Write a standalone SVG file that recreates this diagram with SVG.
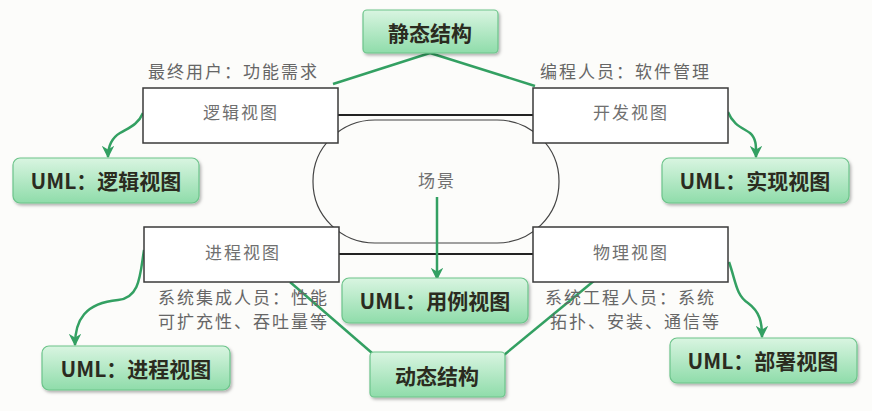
<svg xmlns="http://www.w3.org/2000/svg" width="872" height="411" viewBox="0 0 872 411">
<defs>
<linearGradient id="gg" x1="0" y1="0" x2="0" y2="1">
<stop offset="0" stop-color="#d9f5e1"/>
<stop offset="1" stop-color="#8fdcaa"/>
</linearGradient>
<filter id="sh" x="-10%" y="-20%" width="130%" height="150%">
<feDropShadow dx="1.5" dy="2" stdDeviation="1.5" flood-color="#000" flood-opacity="0.3"/>
</filter>
<marker id="ah" viewBox="0 0 10 10" refX="9" refY="5" markerWidth="5" markerHeight="5" orient="auto" markerUnits="strokeWidth">
<path d="M0,0 L10,5 L0,10 L3,5 z" fill="#33a062"/>
</marker>
<style>
.box{fill:#fff;stroke:#3a3a3a;stroke-width:1.5}
.bt{font-family:"Liberation Serif","Noto Sans CJK SC",serif;font-size:17px;letter-spacing:2px;fill:#707070;text-anchor:middle;dominant-baseline:central}
.note{font-family:"Liberation Serif","Noto Sans CJK SC",serif;font-size:17px;letter-spacing:2px;fill:#666;dominant-baseline:central}
.gb{fill:url(#gg);stroke:#6cc48a;stroke-width:1.2;filter:url(#sh)}
.gt{font-family:"Noto Sans CJK SC",sans-serif;font-weight:bold;font-size:21px;fill:#2b2b1f;text-anchor:middle;dominant-baseline:central}
.gl{fill:none;stroke:#33a062;stroke-width:2.5}
.ga{fill:none;stroke:#33a062;stroke-width:2.5;marker-end:url(#ah)}
</style>
</defs>
<rect x="0" y="0" width="872" height="411" fill="#fcfcfa"/>

<g id="scene">
<rect x="313" y="120" width="246" height="123" rx="62" ry="61" fill="#fcfcfa" stroke="#444" stroke-width="1.2"/>
<text class="bt" x="437" y="181">场景</text>
</g>

<g id="connectors">
<line x1="338" y1="115" x2="533" y2="115" stroke="#222" stroke-width="2"/>
<line x1="339" y1="254" x2="533" y2="254" stroke="#222" stroke-width="2"/>
<line class="gl" x1="430" y1="53" x2="333" y2="84"/>
<line class="gl" x1="430" y1="53" x2="535" y2="86"/>
<line class="gl" x1="290" y1="282" x2="372" y2="353"/>
<line class="gl" x1="595" y1="280" x2="504" y2="355"/>
<path class="ga" d="M437,197 L437,279"/>
<path class="ga" d="M143,113 C138,125 128,128 120,133 C110,139 108,148 108,157"/>
<path class="ga" d="M728,112 C733,125 743,128 750,133 C757,139 756,148 756,157"/>
<path class="ga" d="M144,250 C140,275 140,298 118,300 C85,303 75,320 75,345"/>
<path class="ga" d="M729,262 C736,282 736,295 748,303 C760,312 762,322 762,337"/>
</g>

<g id="logic">
<rect class="box" x="143" y="88" width="195" height="55"/>
<text class="bt" x="241" y="113">逻辑视图</text>
<text class="note" x="148" y="72">最终用户：功能需求</text>
</g>
<g id="dev">
<rect class="box" x="533" y="88" width="195" height="55"/>
<text class="bt" x="631" y="113">开发视图</text>
<text class="note" x="540" y="72">编程人员：软件管理</text>
</g>
<g id="process">
<rect class="box" x="144" y="227" width="195" height="55"/>
<text class="bt" x="243" y="253">进程视图</text>
<text class="note" x="158" y="298">系统集成人员：性能</text>
<text class="note" x="158" y="322">可扩充性、吞吐量等</text>
</g>
<g id="physical">
<rect class="box" x="533" y="227" width="195" height="55"/>
<text class="bt" x="631" y="253">物理视图</text>
<text class="note" x="545" y="298">系统工程人员：系统</text>
<text class="note" x="550" y="322">拓扑、安装、通信等</text>
</g>

<g id="static">
<rect class="gb" x="363" y="10" width="135" height="43" rx="4"/>
<text class="gt" x="430" y="32">静态结构</text>
</g>
<g id="dynamic">
<rect class="gb" x="370" y="352" width="135" height="45" rx="4"/>
<text class="gt" x="437" y="375">动态结构</text>
</g>
<g id="uml-logic">
<rect class="gb" x="13" y="158" width="186" height="45" rx="7"/>
<text class="gt" x="106" y="180">UML：逻辑视图</text>
</g>
<g id="uml-impl">
<rect class="gb" x="662" y="158" width="187" height="45" rx="7"/>
<text class="gt" x="755" y="180">UML：实现视图</text>
</g>
<g id="uml-usecase">
<rect class="gb" x="342" y="278" width="186" height="45" rx="7"/>
<text class="gt" x="435" y="300">UML：用例视图</text>
</g>
<g id="uml-process">
<rect class="gb" x="42" y="346" width="188" height="44" rx="7"/>
<text class="gt" x="136" y="368">UML：进程视图</text>
</g>
<g id="uml-deploy">
<rect class="gb" x="670" y="338" width="187" height="45" rx="7"/>
<text class="gt" x="763" y="360">UML：部署视图</text>
</g>
</svg>
